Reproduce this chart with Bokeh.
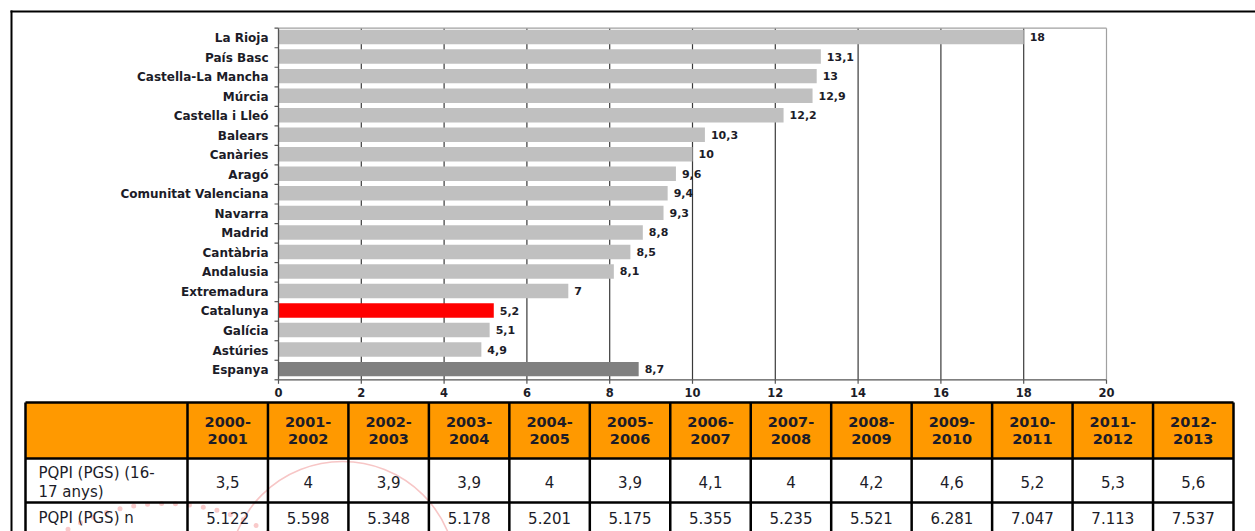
import math
from bokeh.plotting import figure
from bokeh.models import Range1d, ColumnDataSource
from bokeh.embed import file_html
from bokeh.resources import INLINE
from bokeh.core.properties import value

# ---------------- data ----------------
regions = ["La Rioja", "País Basc", "Castella-La Mancha", "Múrcia", "Castella i Lleó",
           "Balears", "Canàries", "Aragó", "Comunitat Valenciana", "Navarra", "Madrid",
           "Cantàbria", "Andalusia", "Extremadura", "Catalunya", "Galícia", "Astúries",
           "Espanya"]
rates = [18, 13.1, 13, 12.9, 12.2, 10.3, 10, 9.6, 9.4, 9.3, 8.8, 8.5, 8.1, 7, 5.2, 5.1, 4.9, 8.7]
x_ticks = [0, 2, 4, 6, 8, 10, 12, 14, 16, 18, 20]

periods = ["2000-2001", "2001-2002", "2002-2003", "2003-2004", "2004-2005", "2005-2006",
           "2006-2007", "2007-2008", "2008-2009", "2009-2010", "2010-2011", "2011-2012",
           "2012-2013"]
pqpi_rate = [3.5, 4, 3.9, 3.9, 4, 3.9, 4.1, 4, 4.2, 4.6, 5.2, 5.3, 5.6]
pqpi_n = [5122, 5598, 5348, 5178, 5201, 5175, 5355, 5235, 5521, 6281, 7047, 7113, 7537]
row_labels = ["PQPI (PGS) (16-\n17 anys)", "PQPI (PGS) n"]

# ---------------- styles / layout ----------------
FONT = value("DejaVu Sans")
TXT = "#1c1c28"
GREY = "#C0C0C0"
RED = "#FF0000"
DARK = "#808080"
ORANGE = "#FF9900"
AXIS = "#555555"

W, H = 1255, 531
PX0, PX1 = 278.0, 1106.0        # chart plot area, horizontal
PY_TOP, PY_BOT = 27.7, 379.3    # chart plot area, vertical
XMAX = 20.0


def fmt_dec(v):
    return ("%g" % v).replace(".", ",")


n = len(regions)
sx = (PX1 - PX0) / XMAX
sq = (PY_BOT - PY_TOP) / n

p = figure(width=W, height=H, x_range=Range1d(0, W), y_range=Range1d(H, 0),
           x_axis_location=None, y_axis_location=None, min_border=0,
           toolbar_location=None, output_backend="svg")
p.min_border_left = p.min_border_right = p.min_border_top = p.min_border_bottom = 0
p.outline_line_color = None
p.grid.visible = False
p.background_fill_color = "white"
p.border_fill_color = "white"
p.extra_x_ranges = {"val": Range1d(-PX0 / sx, (W - PX0) / sx)}
p.extra_y_ranges = {"cat": Range1d(-(H - PY_BOT) / sq, n + PY_TOP / sq)}
C = dict(x_range_name="val", y_range_name="cat")

ys = [n - i - 0.5 for i in range(n)]
colors = [RED if r == "Catalunya" else (DARK if r == "Espanya" else GREY) for r in regions]
src = ColumnDataSource(dict(y=ys, yb=[y + 0.046 for y in ys], v=rates, c=colors,
                            lbl=[fmt_dec(v) for v in rates], name=regions))

# grid lines (behind bars)
gt = x_ticks[1:-1]
p.segment(x0=gt, x1=gt, y0=[0] * len(gt), y1=[n] * len(gt), line_color="#3a3a3a",
          line_width=1.2, **C)
# plot-area border (top, right)
p.segment(x0=[0, XMAX], x1=[XMAX, XMAX], y0=[n, 0], y1=[n, n], line_color="#A0A0A0",
          line_width=1.2, **C)

# bars
p.hbar(y="yb", left=0, right="v", height=0.74, fill_color="c", line_color=None,
       source=src, **C)
p.text(x="v", y="yb", text="lbl", x_offset=6, text_baseline="middle", text_align="left",
       text_font=FONT, text_font_size="11px", text_font_style="bold", text_color=TXT,
       source=src, **C)

# axes lines
p.segment(x0=[0, 0], x1=[0, XMAX], y0=[0, 0], y1=[n, 0], line_color=AXIS, line_width=1.3, **C)
# y ticks at band boundaries, x ticks at values
p.ray(x=[0] * (n + 1), y=list(range(n + 1)), length=4, angle=math.pi, length_units="screen",
      line_color=AXIS, line_width=1.2, **C)
p.ray(x=x_ticks, y=[0] * len(x_ticks), length=4, angle=-math.pi / 2, length_units="screen",
      line_color=AXIS, line_width=1.2, **C)
# category labels
p.text(x=[0] * n, y=ys, text=regions, x_offset=-10, text_align="right",
       text_baseline="middle", text_font=FONT, text_font_size="12px",
       text_font_style="bold", text_color=TXT, **C)
# value-axis tick labels
p.text(x=x_ticks, y=[0] * len(x_ticks), text=[str(t) for t in x_ticks], y_offset=8,
       text_align="center", text_baseline="top", text_font=FONT, text_font_size="11.5px",
       text_font_style="bold", text_color=TXT, **C)

# ---------------- table ----------------
x0, x1, x2 = 25, 187, 1233
cw = (x2 - x1) / len(periods)
edges = [x0, x1] + [x1 + cw * (i + 1) for i in range(len(periods))]
rows = [402, 458, 502, 546]

p.quad(left=[edges[0]], right=[edges[-1]], top=[rows[0]], bottom=[rows[1]],
       fill_color=ORANGE, line_color=None)

# faint watermark behind the table text
p.circle(x=[342], y=[575], radius=114, fill_color=None, line_color="#F7C6C6", line_width=1.6)
p.circle(x=[165], y=[700], radius=197, fill_color=None, line_color="#F9CACA", line_width=5,
         line_dash="0 14", line_cap="round")

p.segment(x0=edges, x1=edges, y0=[rows[0]] * len(edges), y1=[rows[-1]] * len(edges),
          line_color="black", line_width=2.5)
p.segment(x0=[edges[0]] * len(rows), x1=[edges[-1]] * len(rows), y0=rows, y1=rows,
          line_color="black", line_width=2.5)

centers = [(edges[i + 1] + edges[i + 2]) / 2 for i in range(len(periods))]
top_lines = [pp.split("-")[0] + "-" for pp in periods]
bot_lines = [pp.split("-")[1] for pp in periods]
hdr = dict(text_font=FONT, text_font_size="14.5px", text_font_style="bold", text_color=TXT,
           text_align="center", text_baseline="middle")
p.text(x=centers, y=[421.5] * len(centers), text=top_lines, **hdr)
p.text(x=centers, y=[438.5] * len(centers), text=bot_lines, **hdr)

body = dict(text_font=FONT, text_font_size="15px", text_color=TXT, text_baseline="middle")
p.text(x=centers, y=[481.5] * len(centers), text=[fmt_dec(v) for v in pqpi_rate],
       text_align="center", **body)
p.text(x=centers, y=[517] * len(centers), text=[f"{v:,}".replace(",", ".") for v in pqpi_n],
       text_align="center", **body)
lbl1 = row_labels[0].split("\n")
p.text(x=[38, 38], y=[472, 491], text=lbl1, text_align="left", **body)
p.text(x=[38], y=[517], text=[row_labels[1]], text_align="left", **body)

# page frame lines
p.quad(left=[10, 10], right=[12, W], top=[10, 10], bottom=[H, 12], fill_color="black",
       line_color=None)

open("out.html", "w").write(file_html(p, INLINE))
